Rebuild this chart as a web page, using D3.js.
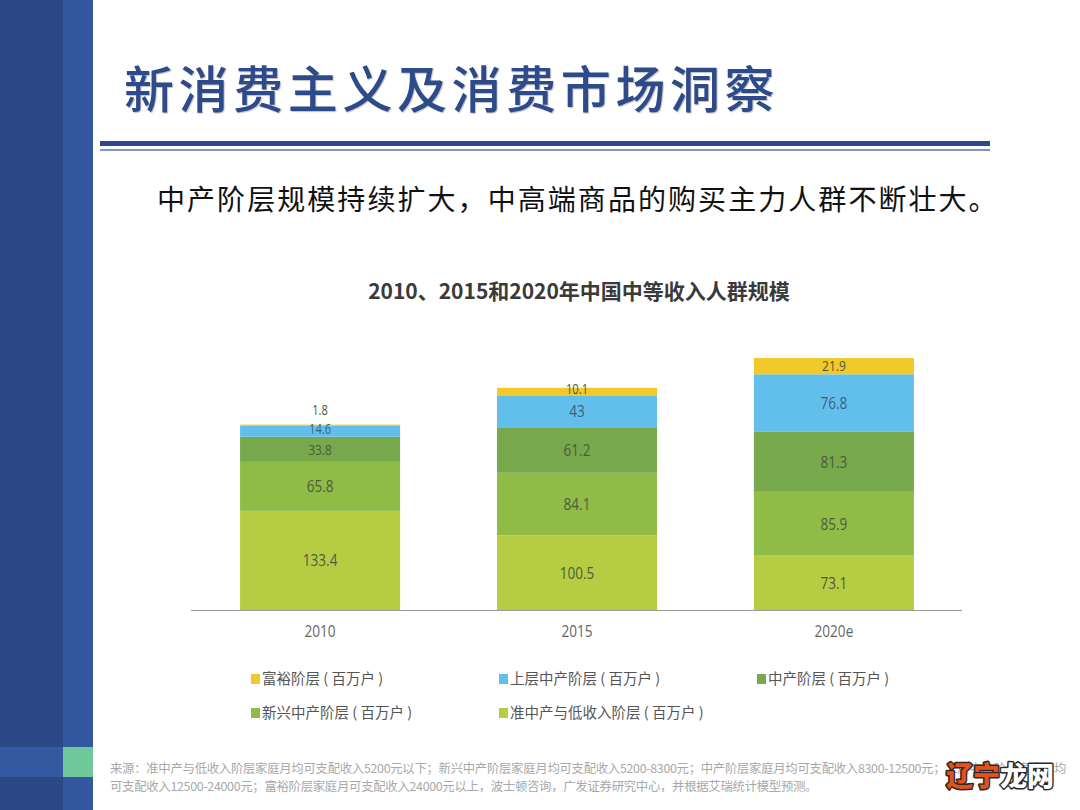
<!DOCTYPE html>
<html><head><meta charset="utf-8">
<script src="https://cdn.jsdelivr.net/npm/d3@7/dist/d3.min.js"></script>
<style>
html,body{margin:0;padding:0;background:#fff;}
svg{display:block;}
</style></head>
<body>
<svg id="c" width="1080" height="810"></svg>
<script>
// ---- data ----
const categories = ["2010", "2015", "2020e"];
const seriesNames = ["准中产与低收入阶层", "新兴中产阶层", "中产阶层", "上层中产阶层", "富裕阶层"];
const lowIncome   = [133.4, 100.5, 73.1];
const emerging    = [65.8, 84.1, 85.9];
const middle      = [33.8, 61.2, 81.3];
const upperMiddle = [14.6, 43, 76.8];
const affluent    = [1.8, 10.1, 21.9];
const legendOrder = ["富裕阶层", "上层中产阶层", "中产阶层", "新兴中产阶层", "准中产与低收入阶层"];
const unitSuffix = " ( 百万户 )";

const seriesValues = [lowIncome, emerging, middle, upperMiddle, affluent];
const colors = {
  "准中产与低收入阶层": "#b6cd43",
  "新兴中产阶层": "#8fbc46",
  "中产阶层": "#77a84b",
  "上层中产阶层": "#62bfec",
  "富裕阶层": "#f1c928"
};

const svg = d3.select("#c");

// ---- slide decoration ----
svg.append("rect").attr("x",0).attr("y",0).attr("width",63).attr("height",810).attr("fill","#2c4985");
svg.append("rect").attr("x",63).attr("y",0).attr("width",30).attr("height",810).attr("fill","#3358a0");
svg.append("rect").attr("x",0).attr("y",747).attr("width",63).attr("height",30).attr("fill","#3459a0");
svg.append("rect").attr("x",63).attr("y",747).attr("width",30).attr("height",30).attr("fill","#6fc89a");

// title
svg.append("text").attr("x",124).attr("y",108)
  .attr("font-family","'Noto Sans CJK SC'").attr("font-size",50).attr("font-weight",500)
  .attr("letter-spacing",4.6)
  .attr("fill","#2d4b8a")
  .style("text-shadow","1px 1px 1px rgba(0,0,0,0.25)")
  .text("新消费主义及消费市场洞察");
svg.append("rect").attr("x",100).attr("y",141).attr("width",890).attr("height",5).attr("fill","#2b4a8c");
svg.append("rect").attr("x",100).attr("y",149).attr("width",890).attr("height",2).attr("fill","#7d95c4");

// subtitle
svg.append("text").attr("x",157).attr("y",210)
  .attr("font-family","'Noto Sans CJK SC'").attr("font-size",28)
  .attr("letter-spacing",2.06).attr("fill","#111")
  .text("中产阶层规模持续扩大，中高端商品的购买主力人群不断壮大。");

// chart title
svg.append("text").attr("x",579).attr("y",299).attr("text-anchor","middle")
  .attr("font-family","'Noto Sans CJK SC'").attr("font-size",21).attr("font-weight",700)
  .attr("fill","#3a3a3a")
  .text("2010、2015和2020年中国中等收入人群规模");

// ---- chart ----
const x = d3.scaleBand().domain(categories).range([191.5, 962.5]).paddingInner(0.377).paddingOuter(0.189);
const totals = categories.map((c,i)=>d3.sum(seriesValues, s=>s[i]));
const y = d3.scaleLinear().domain([0, d3.max(totals)]).range([610, 358]);

const table = categories.map((c,i)=>{
  const o = {cat:c};
  seriesNames.forEach((n,k)=>o[n]=seriesValues[k][i]);
  return o;
});
const stacked = d3.stack().keys(seriesNames)(table);

const g = svg.append("g");
g.selectAll("g.s").data(stacked).join("g").attr("class","s")
  .attr("fill", d=>colors[d.key])
  .selectAll("rect").data(d=>d).join("rect")
  .attr("x", d=>x(d.data.cat))
  .attr("width", x.bandwidth())
  .attr("y", d=>y(d[1]))
  .attr("height", d=>y(d[0])-y(d[1]));

// value labels
stacked.forEach(s=>{
  s.forEach(d=>{
    const h = y(d[0]) - y(d[1]);
    const cx = x(d.data.cat) + x.bandwidth()/2;
    let cy = (y(d[0]) + y(d[1]))/2;
    let fs = 17;
    if (h < 6) { cy = y(d[1]) - 15; fs = 14; }
    else if (h < 12) { cy -= 2; fs = 14; }
    else if (h < 30) { fs = 15; }
    g.append("text")
      .attr("transform", `translate(${cx},${cy}) scale(0.8,1)`)
      .attr("dy","0.35em")
      .attr("text-anchor","middle")
      .attr("font-family","'Open Sans',sans-serif")
      .attr("font-size", fs)
      .attr("fill", s.key==="上层中产阶层" ? "#3c5f7a" : "#4d5a40")
      .text(String(d.data[s.key]));
  });
});

// axis
const ax = svg.append("g").attr("transform","translate(0,610)")
  .call(d3.axisBottom(x).tickSize(0).tickPadding(16));
ax.select(".domain").attr("stroke","#9a9a9a").attr("stroke-width",1.2).attr("d","M191,0.5H962");
ax.selectAll("text").attr("font-family","'Open Sans',sans-serif").attr("font-size",16).attr("fill","#666")
  .attr("transform","scale(0.85,1)");

// legend
const legPos = [[251,679],[499,679],[757,679],[251,713],[499,713]];
legendOrder.forEach((n,i)=>{
  const [lx,ly] = legPos[i];
  svg.append("rect").attr("x",lx).attr("y",ly-5).attr("width",9).attr("height",10).attr("fill",colors[n]);
  svg.append("text").attr("x",lx+11).attr("y",ly).attr("dy","0.36em")
    .attr("font-family","'Noto Sans CJK SC'").attr("font-size",14.5).attr("fill","#555")
    .text(n + unitSuffix);
});

// footer
const foot1 = "来源：准中产与低收入阶层家庭月均可支配收入5200元以下；新兴中产阶层家庭月均可支配收入5200-8300元；中产阶层家庭月均可支配收入8300-12500元；上层中产阶层家庭月均";
const foot2 = "可支配收入12500-24000元；富裕阶层家庭月可支配收入24000元以上，波士顿咨询，广发证券研究中心，并根据艾瑞统计模型预测。";
svg.append("text").attr("x",110).attr("y",773).attr("font-family","'Noto Sans CJK SC'").attr("font-size",12.4).attr("fill","#a8a8a8").attr("letter-spacing",-0.3).text(foot1);
svg.append("text").attr("x",110).attr("y",791).attr("font-family","'Noto Sans CJK SC'").attr("font-size",12.4).attr("fill","#a8a8a8").attr("letter-spacing",-0.3).text(foot2);

// watermark
const wm = svg.append("text").attr("x",946).attr("y",786)
  .attr("font-family","'Noto Sans CJK SC'").attr("font-size",27).attr("font-weight",900)
  .attr("stroke","#2a2a2a").attr("stroke-width",3).attr("paint-order","stroke").attr("stroke-linejoin","round");
wm.append("tspan").attr("fill","#e2521a").text("辽宁");
wm.append("tspan").attr("fill","#ffffff").text("龙网");
</script>
</body></html>
